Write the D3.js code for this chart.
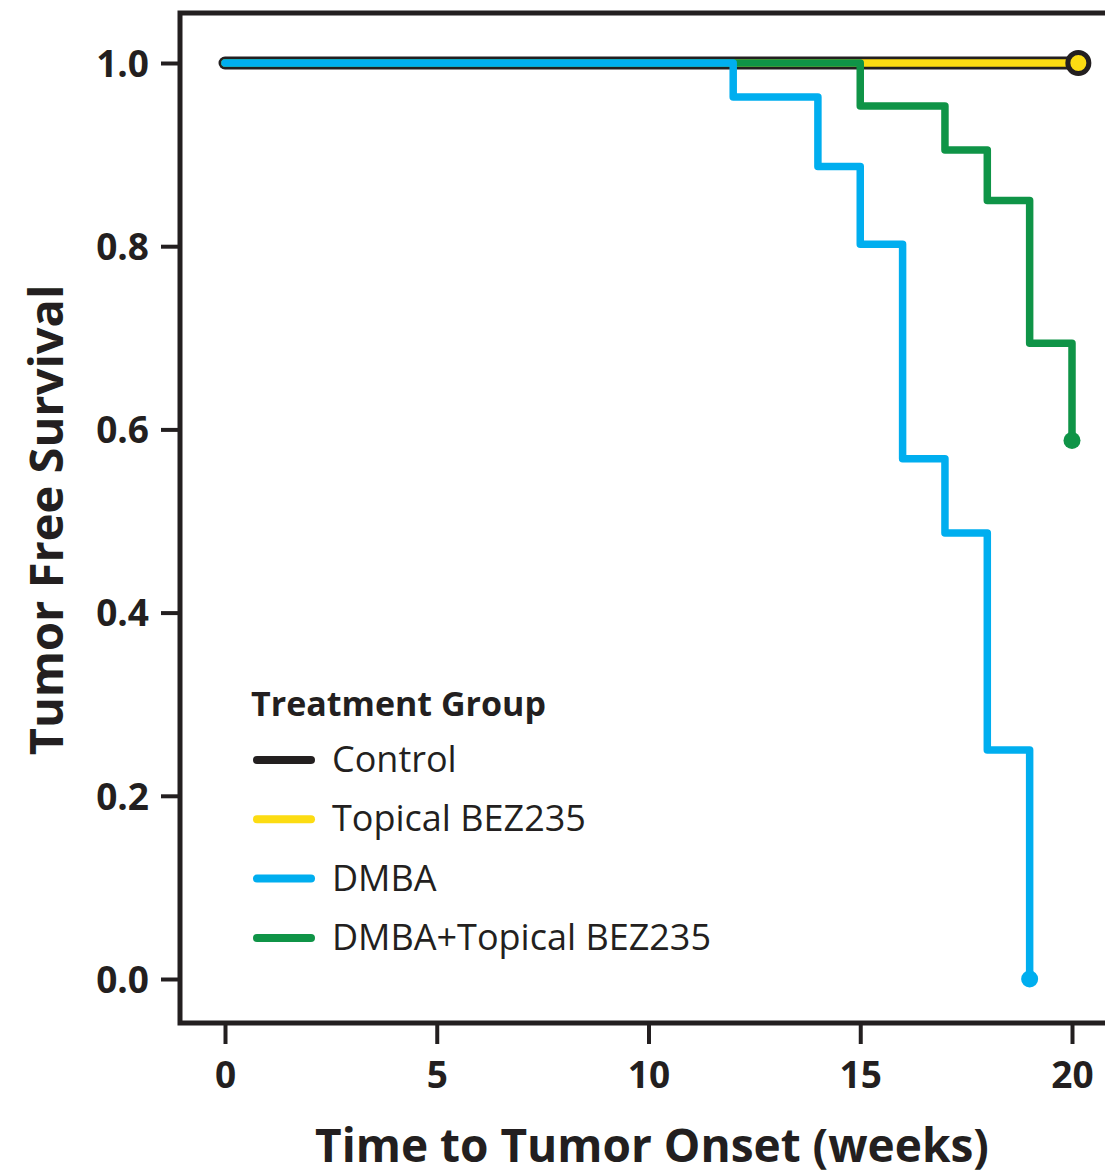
<!DOCTYPE html>
<html><head><meta charset="utf-8">
<script src="https://cdn.jsdelivr.net/npm/d3@7"></script>
<style>
html,body{margin:0;padding:0;background:#fff;}
svg{display:block;}
text{font-family:"Open Sans",sans-serif;fill:#231f20;}
</style></head>
<body>
<svg id="chart" width="1105" height="1176"></svg>
<script>
// ---- data ----
const groups = ["Control", "Topical BEZ235", "DMBA", "DMBA+Topical BEZ235"];
const colors = ["#231f20", "#fcdc12", "#00aeef", "#0f9447"];
const controlTimes = [0, 20.15];
const controlSurv = [1.0, 1.0];
const bezTimes = [0, 20.15];
const bezSurv = [1.0, 1.0];
const dmbaTimes = [0, 12, 14, 15, 16, 17, 18, 19];
const dmbaSurv = [1.0, 0.963, 0.887, 0.802, 0.568, 0.487, 0.25, 0.0];
const comboTimes = [0, 15, 17, 18, 19, 20];
const comboSurv = [1.0, 0.953, 0.905, 0.85, 0.694, 0.588];
const xTicks = [0, 5, 10, 15, 20];
const yTicks = [0.0, 0.2, 0.4, 0.6, 0.8, 1.0];
const xTitle = "Time to Tumor Onset (weeks)";
const yTitle = "Tumor Free Survival";
const legendTitle = "Treatment Group";

const svg = d3.select("#chart");
const x = d3.scaleLinear().domain([0, 20]).range([225, 1072]);
const y = d3.scaleLinear().domain([0, 1]).range([979, 63]);

const frame = {left: 180, top: 13, bottom: 1023, right: 1130};
const ink = "#231f20";

// frame
svg.append("path")
  .attr("d", `M${frame.right},${frame.top}H${frame.left}V${frame.bottom}H${frame.right}`)
  .attr("fill", "none").attr("stroke", ink).attr("stroke-width", 5).attr("stroke-linejoin", "miter");

// y axis ticks
const yAxis = d3.axisLeft(y).tickValues(yTicks).tickFormat(d3.format(".1f")).tickSize(17).tickPadding(12);
const yg = svg.append("g").attr("transform", `translate(${frame.left - 2},0)`).call(yAxis);
yg.select(".domain").remove();
yg.selectAll(".tick line").attr("stroke", ink).attr("stroke-width", 4);
yg.selectAll(".tick text").attr("font-size", 37).attr("font-weight", 700)
  .attr("font-family", "'Open Sans',sans-serif").attr("fill", ink).attr("dy", "0.36em");

// x axis ticks
const xAxis = d3.axisBottom(x).tickValues(xTicks).tickFormat(d3.format("d")).tickSize(19).tickPadding(14);
const xg = svg.append("g").attr("transform", `translate(0,${frame.bottom + 2})`).call(xAxis);
xg.select(".domain").remove();
xg.selectAll(".tick line").attr("stroke", ink).attr("stroke-width", 4);
xg.selectAll(".tick text").attr("font-size", 37).attr("font-weight", 700)
  .attr("font-family", "'Open Sans',sans-serif").attr("fill", ink).attr("dy", "0.8em");

// titles
svg.append("text").attr("x", 652).attr("y", 1162).attr("text-anchor", "middle")
  .attr("font-size", 46).attr("font-weight", 700).text(xTitle);
svg.append("text").attr("transform", "translate(63,520) rotate(-90)").attr("text-anchor", "middle")
  .attr("font-size", 47).attr("font-weight", 700).text(yTitle);

// survival step lines
const line = d3.line().x(d => x(d[0])).y(d => y(d[1])).curve(d3.curveStepAfter);
const zip = (t, s) => t.map((v, i) => [v, s[i]]);
const series = [
  {pts: zip(controlTimes, controlSurv), color: colors[0], w: 13},
  {pts: zip(bezTimes, bezSurv), color: colors[1], w: 7.5},
  {pts: zip(comboTimes, comboSurv), color: colors[3], w: 7.5},
  {pts: zip(dmbaTimes, dmbaSurv), color: colors[2], w: 7.5}
];
series.forEach(s => {
  svg.append("path").datum(s.pts).attr("d", line)
    .attr("fill", "none").attr("stroke", s.color).attr("stroke-width", s.w)
    .attr("stroke-linecap", "round").attr("stroke-linejoin", "round");
});

// end markers
const lastOf = (t, s) => [t[t.length - 1], s[s.length - 1]];
const cEnd = lastOf(bezTimes, bezSurv);
svg.append("circle").attr("cx", x(cEnd[0])).attr("cy", y(cEnd[1])).attr("r", 10.5)
  .attr("fill", colors[1]).attr("stroke", ink).attr("stroke-width", 5);
const dEnd = lastOf(dmbaTimes, dmbaSurv);
svg.append("circle").attr("cx", x(dEnd[0])).attr("cy", y(dEnd[1])).attr("r", 8.5).attr("fill", colors[2]);
const gEnd = lastOf(comboTimes, comboSurv);
svg.append("circle").attr("cx", x(gEnd[0])).attr("cy", y(gEnd[1])).attr("r", 8.5).attr("fill", colors[3]);

// legend
const lg = svg.append("g");
lg.append("text").attr("x", 251).attr("y", 716).attr("font-size", 34).attr("font-weight", 700).text(legendTitle);
groups.forEach((g, i) => {
  const cy = 760 + i * 59.3;
  lg.append("line").attr("x1", 257).attr("x2", 311).attr("y1", cy).attr("y2", cy)
    .attr("stroke", colors[i]).attr("stroke-width", 8).attr("stroke-linecap", "round");
  lg.append("text").attr("x", 332).attr("y", cy + 12).attr("font-size", 36).attr("font-weight", 400).text(g);
});
</script>
</body></html>
